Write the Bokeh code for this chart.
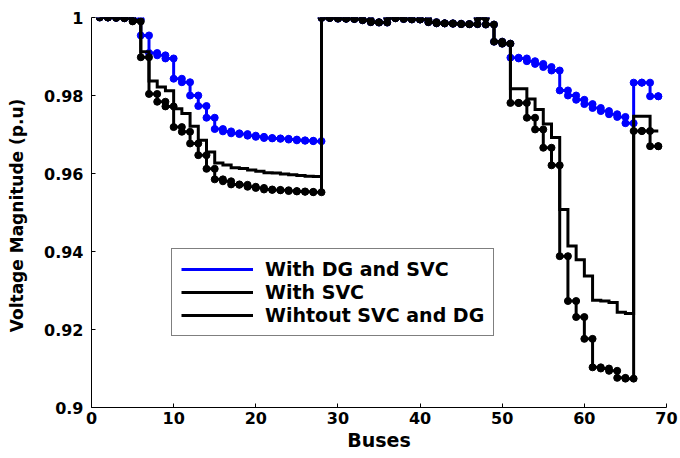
from bokeh.plotting import figure
from bokeh.models import Range1d, Legend, LegendItem, FixedTicker
from bokeh.embed import file_html
from bokeh.resources import INLINE

buses = list(range(1, 70))

with_dg_svc = [
    1.0000, 1.0000, 0.9999, 0.9998, 0.9995, 0.9954, 0.9909, 0.9903, 0.9895, 0.9843,
    0.9834, 0.9800, 0.9773, 0.9743, 0.9714, 0.9708, 0.9703, 0.9701, 0.9697, 0.9694,
    0.9691, 0.9690, 0.9689, 0.9687, 0.9685, 0.9684, 0.9683,
    0.9999, 0.9999, 0.9997, 0.9997, 0.9996, 0.9993, 0.9988, 0.9987,
    0.9999, 0.9998, 0.9996, 0.9995, 0.9995, 0.9988, 0.9985, 0.9985, 0.9984, 0.9983, 0.9983,
    1.0000, 0.9982, 0.9938, 0.9933,
    0.9897, 0.9895, 0.9888, 0.9881, 0.9873, 0.9864, 0.9813, 0.9800, 0.9789, 0.9778,
    0.9768, 0.9760, 0.9752, 0.9745, 0.9729,
    0.9833, 0.9833, 0.9798, 0.9798,
]

with_svc = [
    1.0000, 1.0000, 0.9999, 0.9998, 0.9992, 0.9912, 0.9837, 0.9822, 0.9812, 0.9766,
    0.9754, 0.9721, 0.9685, 0.9655, 0.9627, 0.9622, 0.9615, 0.9613, 0.9609, 0.9606,
    0.9602, 0.9601, 0.9599, 0.9597, 0.9595, 0.9593, 0.9592,
    0.9999, 0.9999, 0.9997, 0.9997, 0.9996, 0.9993, 0.9988, 0.9987,
    0.9999, 0.9998, 0.9996, 0.9995, 0.9995, 0.9988, 0.9985, 0.9985, 0.9984, 0.9983, 0.9983,
    0.9998, 0.9982, 0.9938, 0.9933,
    0.9817, 0.9817, 0.9791, 0.9764, 0.9727, 0.9692, 0.9508, 0.9414, 0.9379, 0.9337,
    0.9275, 0.9273, 0.9269, 0.9244, 0.9241,
    0.9747, 0.9747, 0.9709, 0.9709,
]

without_svc_dg = [
    1.0000, 1.0000, 0.9999, 0.9998, 0.9990, 0.9898, 0.9804, 0.9784, 0.9772, 0.9719,
    0.9707, 0.9677, 0.9647, 0.9612, 0.9585, 0.9580, 0.9572, 0.9571, 0.9566, 0.9563,
    0.9559, 0.9558, 0.9557, 0.9555, 0.9554, 0.9553, 0.9552,
    0.9999, 0.9999, 0.9997, 0.9997, 0.9996, 0.9993, 0.9988, 0.9987,
    0.9999, 0.9998, 0.9996, 0.9995, 0.9995, 0.9988, 0.9985, 0.9985, 0.9984, 0.9983, 0.9983,
    0.9998, 0.9982, 0.9938, 0.9933,
    0.9781, 0.9781, 0.9743, 0.9713, 0.9666, 0.9621, 0.9388, 0.9273, 0.9232, 0.9176,
    0.9103, 0.9100, 0.9094, 0.9076, 0.9074,
    0.9709, 0.9709, 0.9670, 0.9670,
]

labels = ["With DG and SVC", "With SVC", "Wihtout SVC and DG"]
x_ticks = [0, 10, 20, 30, 40, 50, 60, 70]
y_ticks = [0.9, 0.92, 0.94, 0.96, 0.98, 1.0]
y_tick_labels = ["0.9", "0.92", "0.94", "0.96", "0.98", "1"]


def stairs(x, y):
    sx, sy = [x[0]], [y[0]]
    for i in range(1, len(x)):
        sx += [x[i], x[i]]
        sy += [y[i - 1], y[i]]
    return sx, sy


p = figure(output_backend="svg", toolbar_location=None,
           x_range=Range1d(0, 70), y_range=Range1d(0.9, 1.0),
           min_border_left=91, min_border_right=12, min_border_top=17, min_border_bottom=42)
p.frame_width = 575
p.frame_height = 390
p.outline_line_color = None
p.grid.visible = False
p.background_fill_color = "white"

FONT = "DejaVu Sans"
for ax in (p.xaxis[0], p.yaxis[0]):
    ax.axis_line_color = "black"
    ax.axis_line_width = 1
    ax.major_tick_in = 4
    ax.major_tick_out = 0
    ax.major_tick_line_color = "black"
    ax.minor_tick_line_color = None
    ax.major_label_text_font = FONT
    ax.major_label_text_font_style = "bold"
    ax.major_label_text_font_size = "16px"
    ax.major_label_text_color = "black"
    ax.axis_label_text_font = FONT
    ax.axis_label_text_font_style = "bold"
    ax.axis_label_text_color = "black"

p.xaxis.ticker = FixedTicker(ticks=x_ticks)
p.yaxis.ticker = FixedTicker(ticks=y_ticks)
p.yaxis.major_label_overrides = {t: l for t, l in zip(y_ticks, y_tick_labels)}
p.xaxis.axis_label = "Buses"
p.xaxis.axis_label_text_font_size = "19px"
p.xaxis.major_label_standoff = 4
p.xaxis.axis_label_standoff = 2
p.yaxis.axis_label = "Voltage  Magnitude (p.u)"
p.yaxis.axis_label_text_font_size = "17px"
p.yaxis.major_label_standoff = 8
p.yaxis.axis_label_standoff = 14

bx, by = stairs(buses, with_dg_svc)
r1 = p.line(bx, by, line_width=3, color="#0000ff", line_join="miter")
p.scatter(bx, by, size=7, color="#0000ff")

mx, my = stairs(buses, with_svc)
r2 = p.line(mx, my, line_width=3, color="black", line_join="miter")

wx, wy = stairs(buses, without_svc_dg)
r3 = p.line(wx, wy, line_width=3, color="black", line_join="miter")
p.scatter(wx, wy, size=7, color="black")

legend = Legend(items=[LegendItem(label=labels[0], renderers=[r1]),
                       LegendItem(label=labels[1], renderers=[r2]),
                       LegendItem(label=labels[2], renderers=[r3])],
                location=(80, 71))
legend.label_text_font = FONT
legend.label_text_font_style = "bold"
legend.label_text_font_size = "19px"
legend.label_text_color = "black"
legend.label_standoff = 12
legend.glyph_width = 72
legend.glyph_height = 20
legend.label_height = 20
legend.spacing = 1
legend.padding = 9
legend.margin = 0
legend.border_line_color = "black"
legend.border_line_width = 1
legend.background_fill_alpha = 1.0
p.add_layout(legend)

open("out.html", "w").write(file_html(p, INLINE))
